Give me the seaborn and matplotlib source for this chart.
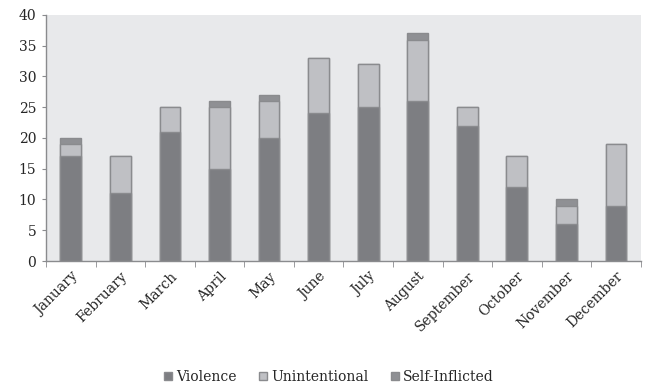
import matplotlib
matplotlib.use("Agg")
import matplotlib.pyplot as plt
import seaborn as sns
import pandas as pd
import numpy as np
from matplotlib.patches import Patch

months = ["January", "February", "March", "April", "May", "June", "July",
          "August", "September", "October", "November", "December"]
violence = [17, 11, 21, 15, 20, 24, 25, 26, 22, 12, 6, 9]
unintentional = [2, 6, 4, 10, 6, 9, 7, 10, 3, 5, 3, 10]
self_inflicted = [1, 0, 0, 1, 1, 0, 0, 1, 0, 0, 1, 0]
series_names = ["Violence", "Unintentional", "Self-Inflicted"]
colors = ["#7d7e82", "#bfc0c4", "#8f9094"]

sns.set_style("white")
plt.rcParams['font.family'] = ['DejaVu Serif']

fig = plt.figure(figsize=(6.5, 3.83), dpi=100)
ax = fig.add_axes([0.0708, 0.3185, 0.915, 0.6425])
ax.set_facecolor("#e8e9eb")

v = np.array(violence)
u = np.array(unintentional)
s = np.array(self_inflicted)
layers = [v + u + s, v + u, v]
layer_colors = [colors[2], colors[1], colors[0]]
for tops, col in zip(layers, layer_colors):
    df = pd.DataFrame({"month": months, "value": tops})
    sns.barplot(data=df, x="month", y="value", color=col, width=0.42,
                edgecolor="#8a8b8e", linewidth=1.0, saturation=1, ax=ax)

ax.set_ylim(0, 40)
ax.set_xlim(-0.5, 11.5)
ax.set_yticks(range(0, 41, 5))
ax.set_xlabel("")
ax.set_ylabel("")
ax.tick_params(axis="y", labelsize=10, length=3, color="#8a8b8e", left=True, pad=4)
ax.set_xticks(range(12))
ax.set_xticklabels(months, rotation=45, ha="right", rotation_mode="anchor", fontsize=10)
ax.tick_params(axis="x", length=0, pad=6)
ax.set_xticks(np.arange(-0.5, 12, 1), minor=True)
ax.tick_params(axis="x", which="minor", length=4, color="#8a8b8e", bottom=True)
for sp in ["top", "right"]:
    ax.spines[sp].set_visible(False)
for sp in ["left", "bottom"]:
    ax.spines[sp].set_color("#8a8b8e")
    ax.spines[sp].set_linewidth(1.0)

handles = [Patch(facecolor=c, edgecolor="#8a8b8e", label=n) for c, n in zip(colors, series_names)]
fig.legend(handles=handles, loc="lower center", bbox_to_anchor=(0.506, -0.035), ncol=3,
           frameon=False, prop={"family": "DejaVu Serif", "size": 10},
           handlelength=0.6, handleheight=0.6,
           handletextpad=0.3, columnspacing=1.6)

fig.savefig("out.png", dpi=100)
